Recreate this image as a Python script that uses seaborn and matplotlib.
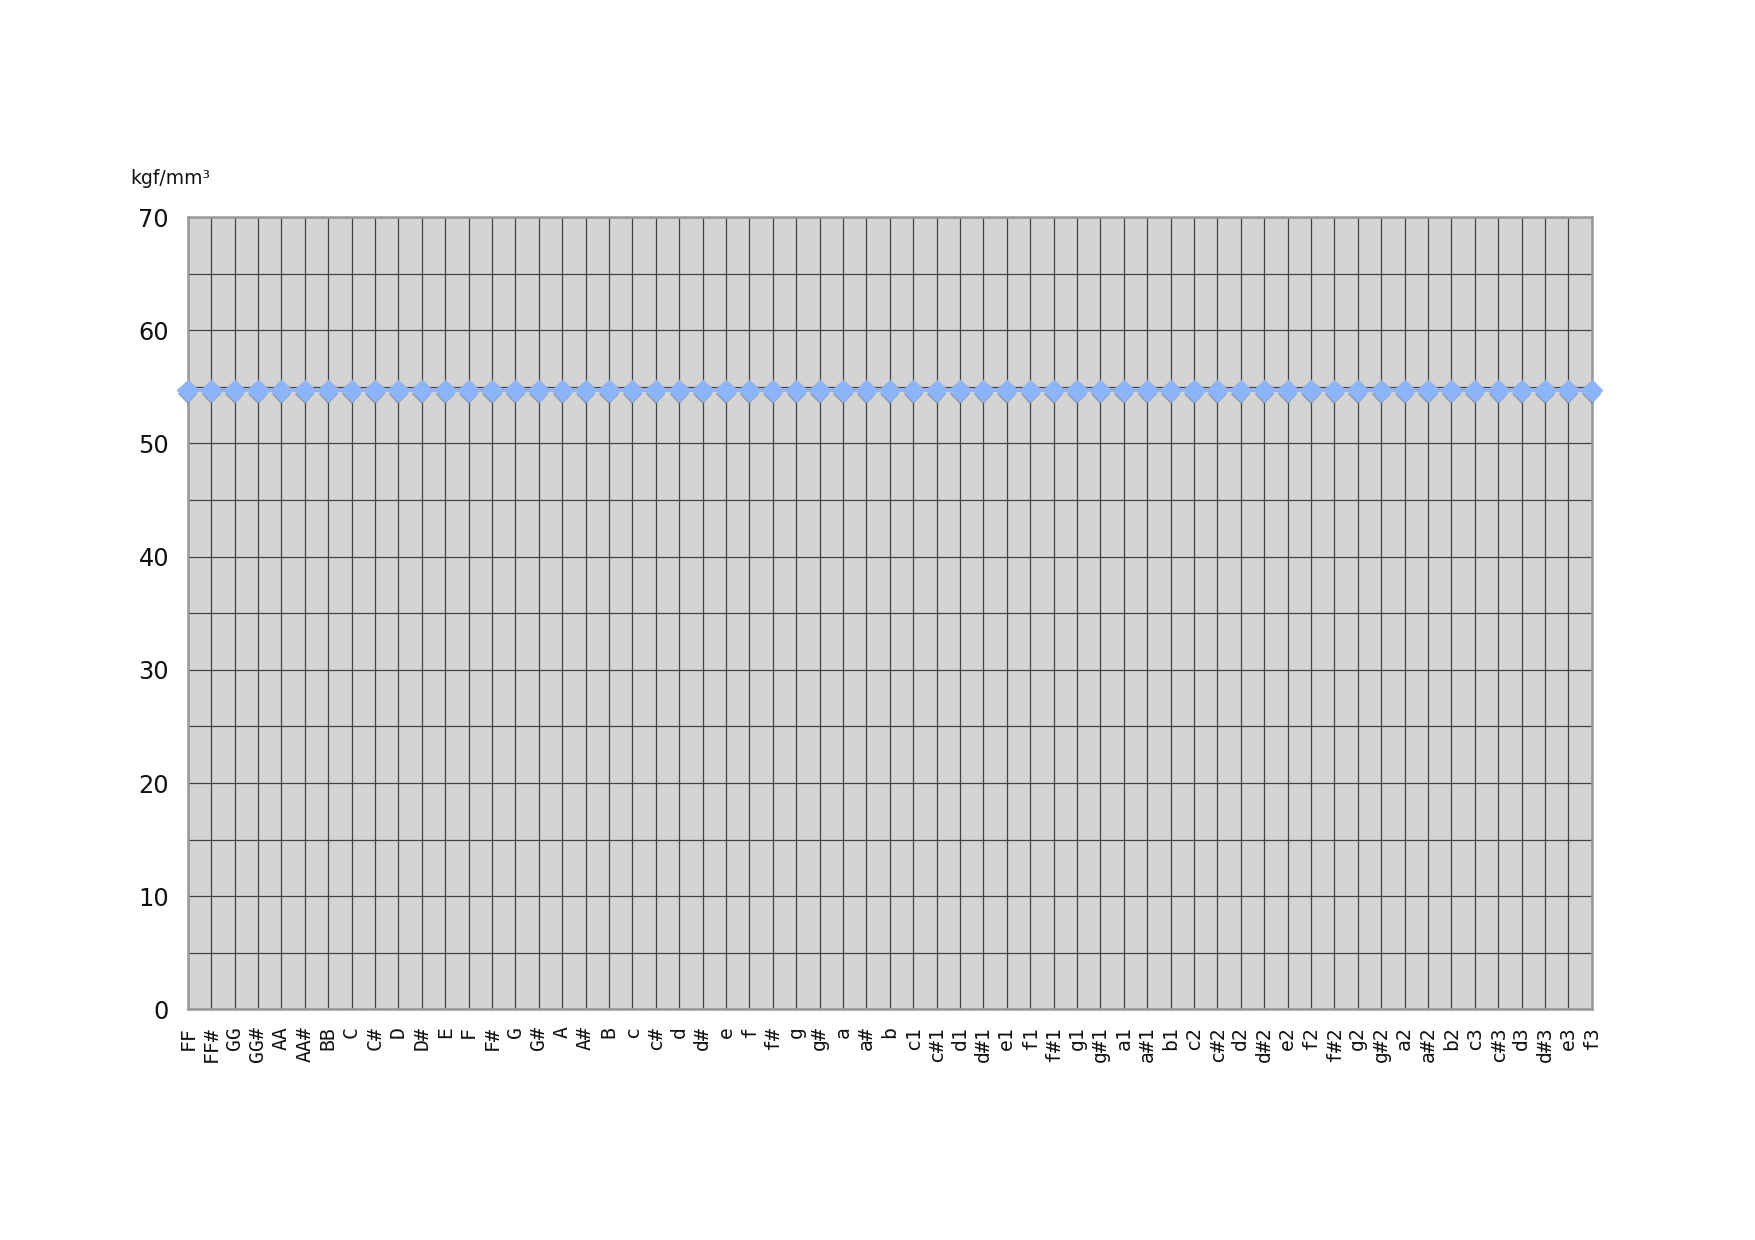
import matplotlib
matplotlib.use("Agg")
import matplotlib.pyplot as plt
import matplotlib.patheffects as pe
import pandas as pd
import seaborn as sns
from matplotlib.ticker import MultipleLocator

notes = [
    'FF', 'FF#', 'GG', 'GG#', 'AA', 'AA#', 'BB',
    'C', 'C#', 'D', 'D#', 'E', 'F', 'F#', 'G', 'G#', 'A', 'A#', 'B',
    'c', 'c#', 'd', 'd#', 'e', 'f', 'f#', 'g', 'g#', 'a', 'a#', 'b',
    'c1', 'c#1', 'd1', 'd#1', 'e1', 'f1', 'f#1', 'g1', 'g#1', 'a1', 'a#1', 'b1',
    'c2', 'c#2', 'd2', 'd#2', 'e2', 'f2', 'f#2', 'g2', 'g#2', 'a2', 'a#2', 'b2',
    'c3', 'c#3', 'd3', 'd#3', 'e3', 'f3',
]
stress = [54.7] * len(notes)
y_ticks = [0, 10, 20, 30, 40, 50, 60, 70]
unit_label = 'kgf/mm³'

df = pd.DataFrame({'note': notes, 'stress': stress})

sns.set_theme(style="white")
plt.rcParams['font.family'] = ['DejaVu Sans']

fig = plt.figure(figsize=(11.7, 8.267), dpi=150)
ax = fig.add_axes([0.107, 0.186, 0.8, 0.639])
ax.set_facecolor('#d4d4d4')

sns.pointplot(
    data=df, x='note', y='stress', ax=ax,
    color='#8cb4f8', marker='D', markersize=6.5, linewidth=1.8,
    errorbar=None,
)
for ln in ax.lines:
    ln.set_clip_on(False)
    ln.set_zorder(5)
    ln.set_path_effects([
        pe.SimplePatchShadow(offset=(0, -2), shadow_rgbFace='#8a8a8a', alpha=0.8),
        pe.Normal(),
    ])

ax.set_xlim(0, len(notes) - 1)
ax.set_ylim(0, 70)
ax.set_yticks(y_ticks)
ax.set_yticklabels([str(v) for v in y_ticks], fontsize=11.5, color='#111111')
ax.yaxis.set_minor_locator(MultipleLocator(5))
ax.set_xticks(range(len(notes)))
ax.set_xticklabels(notes, rotation=90, fontsize=9.5, color='#111111',
                   family=['DejaVu Sans Mono'])
ax.tick_params(axis='both', which='both', length=0)
ax.tick_params(axis='y', pad=9)
ax.tick_params(axis='x', pad=8)

ax.grid(True, which='both', axis='y', color='#444444', linewidth=0.6)
ax.grid(True, which='major', axis='x', color='#444444', linewidth=0.6)
ax.set_axisbelow(True)
for s in ax.spines.values():
    s.set_visible(True)
    s.set_color('#999999')
    s.set_linewidth(1.2)

ax.set_xlabel('')
ax.set_ylabel('')
fig.text(130 / 1755, 1 - 178 / 1240, unit_label, fontsize=9, va='center', ha='left', color='#111111')

fig.savefig('out.png', dpi=150, facecolor='white')
